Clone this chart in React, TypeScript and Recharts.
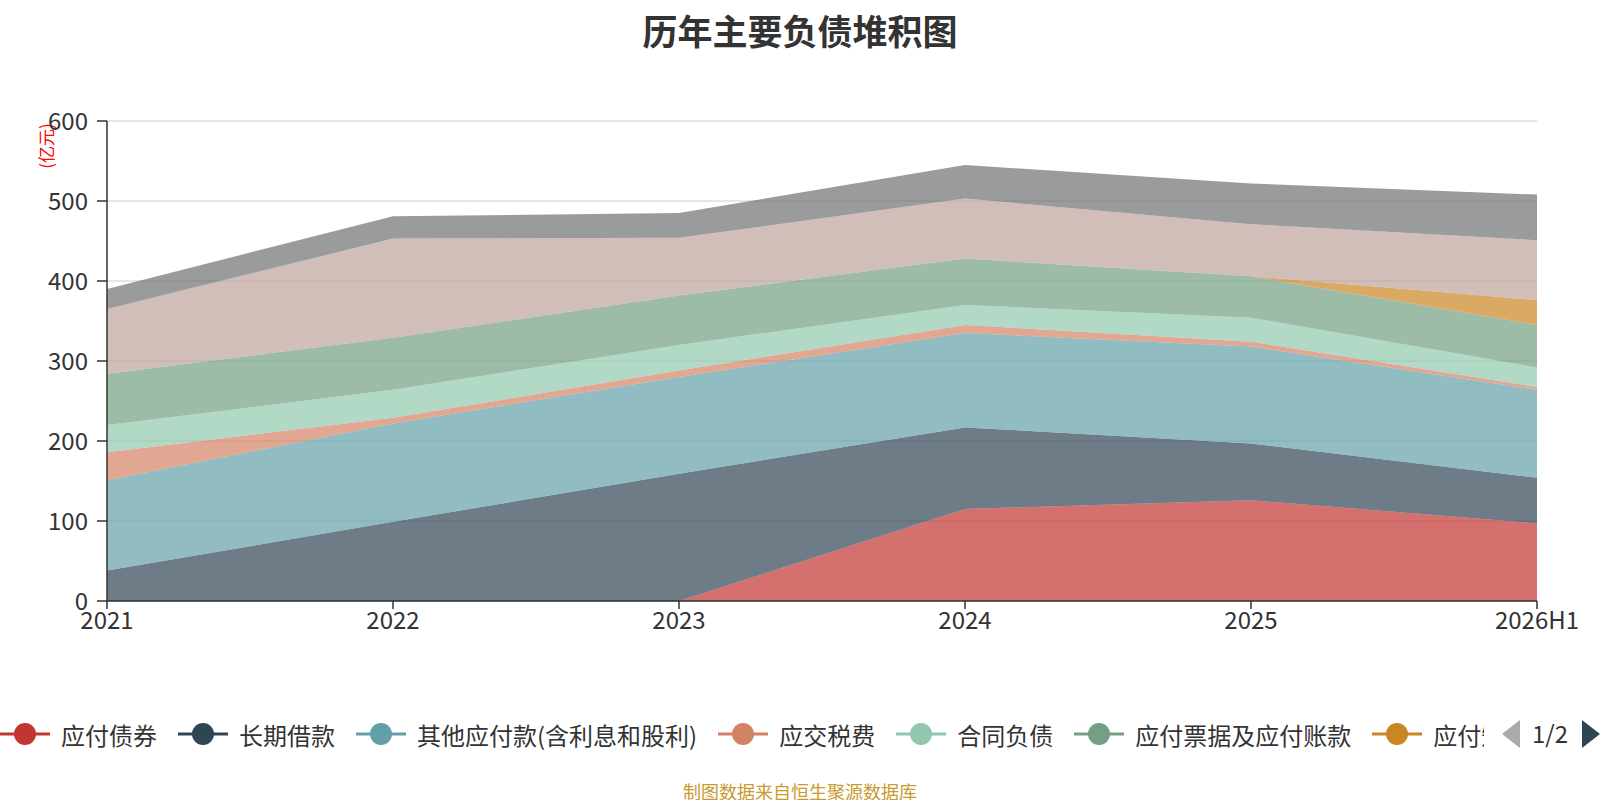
import { Area, AreaChart, CartesianGrid, XAxis, YAxis } from "recharts"

const years = ["2021", "2022", "2023", "2024", "2025", "2026H1"]
const yTicks = [0, 100, 200, 300, 400, 500, 600]

// 亿元
const bondsPayable = [0, 0, 0, 115, 126, 97]
const longTermLoans = [38, 99, 159, 102, 71, 57]
const otherPayables = [113, 123, 121, 118, 121, 110]
const taxesPayable = [35, 7, 8, 10, 6, 3.5]
const contractLiabilities = [34, 35, 32, 25, 30, 24.5]
const notesAndAccounts = [64, 65, 62, 58, 52, 53]
const shortBonds = [0, 0, 0, 0, 0, 31]
const shortTermLoans = [81, 124, 72, 75, 65, 75]
const currentNonCurrent = [25, 28, 31, 42, 51, 57]

const seriesNames = [
  "应付债券",
  "长期借款",
  "其他应付款(含利息和股利)",
  "应交税费",
  "合同负债",
  "应付票据及应付账款",
  "应付短期债券",
  "短期借款",
  "一年内到期的非流动负债",
]
const seriesColors = [
  "#c23531",
  "#2f4554",
  "#61a0a8",
  "#d48265",
  "#91c7ae",
  "#749f83",
  "#ca8622",
  "#bda29a",
  "#6e7074",
]
const seriesValues = [
  bondsPayable,
  longTermLoans,
  otherPayables,
  taxesPayable,
  contractLiabilities,
  notesAndAccounts,
  shortBonds,
  shortTermLoans,
  currentNonCurrent,
]

const chartData = years.map((year, i) => {
  const row: Record<string, string | number> = { year }
  seriesValues.forEach((vals, s) => {
    row[`s${s}`] = vals[i]
  })
  return row
})

const font = '"Noto Sans CJK SC", "Noto Sans", sans-serif'

function LegendRow() {
  return (
    <div
      style={{
        position: "absolute",
        left: 0,
        top: 716,
        width: 1484,
        height: 36,
        overflow: "hidden",
        whiteSpace: "nowrap",
        display: "flex",
        alignItems: "center",
      }}
    >
      {seriesNames.map((name, i) => (
        <div
          key={name}
          style={{ display: "flex", alignItems: "center", marginRight: 21, flexShrink: 0 }}
        >
          <svg width={50} height={24} style={{ marginRight: 11 }}>
            <line x1={0} y1={12} x2={50} y2={12} stroke={seriesColors[i]} strokeWidth={3} />
            <circle cx={25} cy={12} r={11} fill={seriesColors[i]} />
          </svg>
          <span style={{ fontSize: 24, color: "#333" }}>{name}</span>
        </div>
      ))}
    </div>
  )
}

export default function App() {
  return (
    <div
      style={{
        position: "absolute",
        left: 0,
        top: 0,
        width: 1600,
        height: 800,
        background: "#fff",
        fontFamily: font,
      }}
    >
      <div
        style={{
          position: "absolute",
          top: 4,
          width: 1600,
          textAlign: "center",
          fontSize: 35,
          fontWeight: 700,
          color: "#333",
        }}
      >
        历年主要负债堆积图
      </div>

      <div
        style={{
          position: "absolute",
          left: 45,
          top: 146,
          transform: "translate(-50%, -50%) rotate(-90deg)",
          fontSize: 17,
          color: "#ff0000",
          whiteSpace: "nowrap",
        }}
      >
        (亿元)
      </div>

      <AreaChart
        width={1600}
        height={650}
        data={chartData}
        margin={{ top: 121, right: 63, left: 27, bottom: 9 }}
      >
        <CartesianGrid vertical={false} stroke="#ccc" />
        <XAxis
          dataKey="year"
          height={40}
          tick={{ fontSize: 24, fill: "#333", fontFamily: font }}
          axisLine={{ stroke: "#333", strokeWidth: 1.5 }}
          tickLine={{ stroke: "#333", strokeWidth: 1.5 }}
          tickSize={8}
          tickMargin={3}
          interval={0}
        />
        <YAxis
          width={80}
          domain={[0, 600]}
          ticks={yTicks}
          tick={{ fontSize: 24, fill: "#333", fontFamily: font }}
          axisLine={{ stroke: "#333", strokeWidth: 1.5 }}
          tickLine={{ stroke: "#333", strokeWidth: 1.5 }}
          tickSize={10}
          tickMargin={9}
        />
        {seriesNames.map((name, i) => (
          <Area
            key={name}
            name={name}
            dataKey={`s${i}`}
            stackId="1"
            type="linear"
            stroke="none"
            fill={seriesColors[i]}
            fillOpacity={0.7}
            dot={false}
            activeDot={false}
            isAnimationActive={false}
          />
        ))}
      </AreaChart>

      <LegendRow />

      <svg style={{ position: "absolute", left: 1498, top: 718 }} width={102} height={32}>
        <polygon points="22,2 22,30 4,16" fill="#aaa" />
        <text x={52} y={25} textAnchor="middle" fontSize={24} fill="#333" fontFamily={font}>
          1/2
        </text>
        <polygon points="84,2 84,30 102,16" fill="#2f4554" />
      </svg>

      <div
        style={{
          position: "absolute",
          top: 778,
          width: 1600,
          textAlign: "center",
          fontSize: 18,
          color: "#c99a2e",
        }}
      >
        制图数据来自恒生聚源数据库
      </div>
    </div>
  )
}
